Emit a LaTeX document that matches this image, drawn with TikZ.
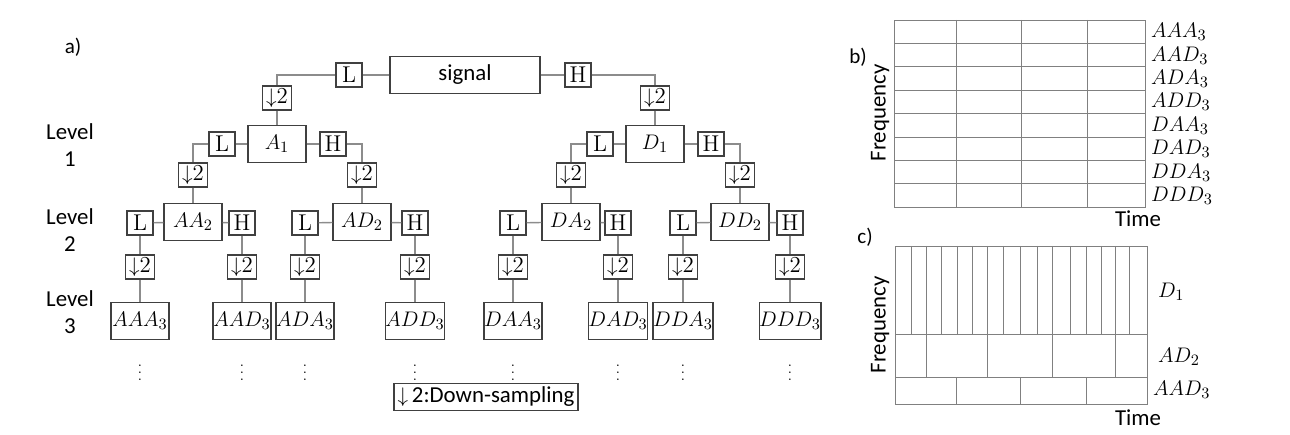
\documentclass[tikz,border=0pt]{standalone}
\usepackage{fontspec}
\setsansfont{Carlito}
\usetikzlibrary{positioning}

\begin{document}
\begin{tikzpicture}[x=0.02cm, y=-0.02cm, font=\fontsize{13}{15}\selectfont,
  box/.style={draw=black!75, thick, inner sep=0pt, minimum width=1.16cm, minimum height=0.75cm},
  filt/.style={draw=black!75, thick, inner sep=0pt, minimum width=0.52cm, minimum height=0.48cm},
  down/.style={draw=black!75, thick, inner sep=0pt, minimum width=0.58cm, minimum height=0.48cm},
  wire/.style={draw=black!45, thick},
  grid/.style={draw=black!50, thin}]
\useasboundingbox (0,0) rectangle (1290,435);

\node at (73,47) {\sffamily\large a)};
\node[align=center] at (70,145) {\sffamily Level\\ \sffamily 1};
\node[align=center] at (70,230) {\sffamily Level\\ \sffamily 2};
\node[align=center] at (70,312) {\sffamily Level\\ \sffamily 3};

% root
\node[box, minimum width=3cm] (sig) at (465,75) {\sffamily signal};
\node[filt] (L0) at (349,75) {L};
\node[filt] (H0) at (578,75) {H};
\node[down] (dL0) at (277,98) {$\downarrow$2};
\node[down] (dH0) at (655,98) {$\downarrow$2};
\draw[wire] (sig) -- (L0); \draw[wire] (sig) -- (H0);
\draw[wire] (L0.west) -| (dL0); \draw[wire] (H0.east) -| (dH0);

% level 1
\node[box] (A1) at (277,144) {$A_1$};
\node[box] (D1) at (655,144) {$D_1$};
\draw[wire] (dL0) -- (A1); \draw[wire] (dH0) -- (D1);
\node[filt] (LA1) at (222,144) {L};
\node[filt] (HA1) at (333,144) {H};
\node[filt] (LD1) at (600,144) {L};
\node[filt] (HD1) at (711,144) {H};
\node[down] (dLA1) at (193,175) {$\downarrow$2};
\node[down] (dHA1) at (362,175) {$\downarrow$2};
\node[down] (dLD1) at (571,175) {$\downarrow$2};
\node[down] (dHD1) at (740,175) {$\downarrow$2};
\draw[wire] (A1) -- (LA1); \draw[wire] (A1) -- (HA1);
\draw[wire] (D1) -- (LD1); \draw[wire] (D1) -- (HD1);
\draw[wire] (LA1.west) -| (dLA1); \draw[wire] (HA1.east) -| (dHA1);
\draw[wire] (LD1.west) -| (dLD1); \draw[wire] (HD1.east) -| (dHD1);

% level 2
\node[box] (AA2) at (193,222) {$AA_2$};
\node[box] (AD2) at (362,222) {$AD_2$};
\node[box] (DA2) at (571,222) {$DA_2$};
\node[box] (DD2) at (740,222) {$DD_2$};
\draw[wire] (dLA1) -- (AA2); \draw[wire] (dHA1) -- (AD2);
\draw[wire] (dLD1) -- (DA2); \draw[wire] (dHD1) -- (DD2);
\foreach \p/\l/\h in {AA2/140/242, AD2/305/415, DA2/513/618, DD2/683/790} {
  \node[filt] (L\p) at (\l,223) {L};
  \node[filt] (H\p) at (\h,223) {H};
  \node[down] (dL\p) at (\l,267) {$\downarrow$2};
  \node[down] (dH\p) at (\h,267) {$\downarrow$2};
  \draw[wire] (\p) -- (L\p); \draw[wire] (\p) -- (H\p);
  \draw[wire] (L\p) -- (dL\p); \draw[wire] (H\p) -- (dH\p);
}

% level 3
\foreach \p/\a/\b in {AA2/AAA/AAD, AD2/ADA/ADD, DA2/DAA/DAD, DD2/DDA/DDD} {
  \node[box] (\a3) at (dL\p |- 0,321) {$\a_3$};
  \node[box] (\b3) at (dH\p |- 0,321) {$\b_3$};
  \draw[wire] (dL\p) -- (\a3); \draw[wire] (dH\p) -- (\b3);
  \node[inner sep=0pt, font=\footnotesize] (v\a) at (dL\p |- 0,367) {$\vdots$};
  \node[inner sep=0pt, font=\footnotesize] (v\b) at (dH\p |- 0,367) {$\vdots$};
}
\node[draw=black!75, thick, inner sep=2pt, minimum width=3.34cm, minimum height=0.52cm] (key) at (486,397) {\sffamily$\downarrow$\,2:Down-sampling};

% b) time-frequency tiling
\node at (858,57) {\sffamily\large b)};
\node[rotate=90] at (880,113) {\sffamily Frequency};
\draw[grid] (894,20) rectangle (1145,207);
\foreach \x in {956,1021,1087} \draw[grid] (\x,20) -- (\x,207);
\foreach \n [count=\i from 0] in {AAA,AAD,ADA,ADD,DAA,DAD,DDA,DDD} {
  \draw[grid] (894,20+23.4*\i) -- (1145,20+23.4*\i);
  \node[anchor=west] at (1145,32+23.4*\i) {$\n_3$};
}
\node at (1138,219) {\sffamily Time};

% c) dyadic tiling
\node at (865,237) {\sffamily\large c)};
\node[rotate=90] at (880,325) {\sffamily Frequency};
\draw[grid] (895,246) rectangle (1147,404);
\draw[grid] (895,334) -- (1147,334);
\draw[grid] (895,377) -- (1147,377);
\foreach \x in {911,926,941,957,972,987,1003,1020,1037,1052,1070,1086,1101,1115,1129}
  \draw[grid] (\x,246) -- (\x,334);
\foreach \x in {926,987,1052,1115} \draw[grid] (\x,334) -- (\x,377);
\foreach \x in {956,1020,1086} \draw[grid] (\x,377) -- (\x,404);
\node[anchor=west] at (1152,292) {$D_1$};
\node[anchor=west] at (1152,357) {$AD_2$};
\node[anchor=west] at (1147,390) {$AAD_3$};
\node at (1138,418) {\sffamily Time};

\end{tikzpicture}
\end{document}
